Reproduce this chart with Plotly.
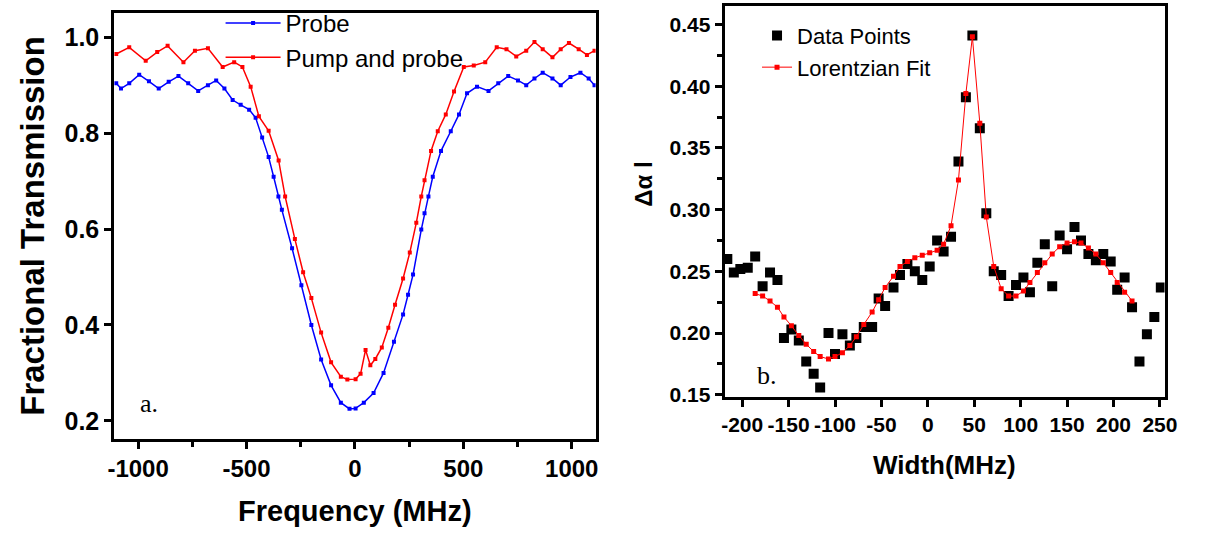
import plotly.graph_objects as go

# ---------------- data (panel a) ----------------
probe_freq = [-1101, -1079, -1041, -995, -950, -905, -859, -814, -769, -723, -678, -640,
              -602, -564, -527, -488, -458, -428, -398, -375, -353, -337, -290, -247,
              -201, -156, -110, -65, -25, 3, 41, 86, 132, 180, 222, 245, 268, 306, 321,
              339, 359, 397, 442, 480, 517, 563, 616, 661, 707, 752, 790, 828, 866, 911,
              949, 994, 1040, 1078, 1105]
probe_trans = [0.904, 0.893, 0.904, 0.922, 0.908, 0.893, 0.907, 0.919, 0.904, 0.888, 0.900, 0.910,
               0.893, 0.869, 0.859, 0.849, 0.832, 0.791, 0.750, 0.709, 0.668, 0.640, 0.560, 0.483,
               0.400, 0.328, 0.274, 0.238, 0.225, 0.226, 0.238, 0.258, 0.300, 0.365, 0.422, 0.463,
               0.505, 0.599, 0.633, 0.668, 0.709, 0.763, 0.804, 0.839, 0.883, 0.897, 0.888, 0.904,
               0.919, 0.910, 0.900, 0.914, 0.926, 0.914, 0.900, 0.917, 0.926, 0.914, 0.900]

pump_freq = [-1101, -1041, -965, -912, -864, -791, -738, -678, -610, -557, -519, -481, -443,
             -398, -352, -322, -277, -239, -201, -156, -110, -65, -35, 3, 26, 49, 71, 94, 124,
             154, 185, 222, 253, 283, 306, 321, 351, 382, 419, 457, 502, 548, 601, 654, 699,
             744, 790, 828, 866, 911, 949, 987, 1032, 1070, 1105]
pump_trans = [0.965, 0.979, 0.951, 0.969, 0.982, 0.948, 0.972, 0.977, 0.938, 0.948, 0.938, 0.897,
              0.835, 0.805, 0.743, 0.668, 0.579, 0.510, 0.456, 0.384, 0.322, 0.292, 0.286, 0.287,
              0.298, 0.348, 0.316, 0.329, 0.353, 0.394, 0.442, 0.497, 0.551, 0.613, 0.668, 0.702,
              0.763, 0.804, 0.839, 0.887, 0.938, 0.941, 0.948, 0.979, 0.975, 0.960, 0.972, 0.990,
              0.975, 0.958, 0.975, 0.988, 0.975, 0.963, 0.972]

# ---------------- data (panel b) ----------------
data_width = [-216, -209, -202, -194, -186, -178, -170, -162, -155, -147, -139, -131, -123, -116,
              -107, -100, -92, -84, -77, -69, -60, -53, -46, -37, -30, -22, -14, -6, 2, 10, 17,
              25, 33, 41, 48, 56, 63, 71, 79, 87, 95, 103, 110, 118, 126, 134, 142, 150, 158,
              165, 173, 181, 189, 197, 204, 212, 220, 228, 236, 244, 251]
data_dal = [0.260, 0.249, 0.252, 0.253, 0.262, 0.238, 0.249, 0.243, 0.196, 0.203, 0.194, 0.177,
            0.167, 0.156, 0.200, 0.183, 0.199, 0.190, 0.196, 0.205, 0.205, 0.228, 0.222, 0.237,
            0.247, 0.256, 0.250, 0.243, 0.254, 0.275, 0.266, 0.278, 0.339, 0.391, 0.441, 0.366,
            0.297, 0.250, 0.247, 0.230, 0.239, 0.245, 0.233, 0.257, 0.272, 0.238, 0.279, 0.268,
            0.286, 0.275, 0.264, 0.259, 0.264, 0.258, 0.235, 0.245, 0.221, 0.177, 0.199, 0.213,
            0.237]

fit_width = [-186, -178, -170, -162, -155, -147, -139, -131, -123, -116, -107, -100, -92, -84,
             -77, -69, -60, -53, -46, -37, -30, -22, -14, -6, 2, 10, 17, 25, 33, 41, 48, 56, 63,
             71, 79, 87, 95, 103, 110, 118, 126, 134, 142, 150, 158, 165, 173, 181, 189, 197,
             204, 212, 220]
fit_dal = [0.232, 0.230, 0.226, 0.221, 0.213, 0.206, 0.198, 0.191, 0.185, 0.181, 0.179, 0.181,
           0.184, 0.190, 0.197, 0.207, 0.217, 0.227, 0.237, 0.246, 0.254, 0.258, 0.261, 0.263,
           0.265, 0.267, 0.272, 0.287, 0.324, 0.394, 0.440, 0.370, 0.294, 0.254, 0.236, 0.230,
           0.230, 0.234, 0.241, 0.249, 0.257, 0.264, 0.270, 0.273, 0.274, 0.273, 0.269, 0.264,
           0.257, 0.249, 0.241, 0.233, 0.226]

left_xticks = [-1000, -500, 0, 500, 1000]
left_yticks = [0.2, 0.4, 0.6, 0.8, 1.0]
right_xticks = [-200, -150, -100, -50, 0, 50, 100, 150, 200, 250]
right_yticks = [0.15, 0.20, 0.25, 0.30, 0.35, 0.40, 0.45]

# ---------------- layout helpers ----------------
W, H = 1211, 542
def px_x(p):
    return p / W
def px_y(p):
    return (H - p) / H

FONT = "Liberation Sans, Arial, sans-serif"

fig = go.Figure()

fig.add_trace(go.Scatter(x=probe_freq, y=probe_trans, mode="lines+markers", name="Probe",
                         line=dict(color="#0000ff", width=1.5),
                         marker=dict(symbol="square", size=4, color="#0000ff"),
                         xaxis="x", yaxis="y", legend="legend"))
fig.add_trace(go.Scatter(x=pump_freq, y=pump_trans, mode="lines+markers", name="Pump and probe",
                         line=dict(color="#ff0000", width=1.5),
                         marker=dict(symbol="square", size=4, color="#ff0000"),
                         xaxis="x", yaxis="y", legend="legend"))
fig.add_trace(go.Scatter(x=data_width, y=data_dal, mode="markers", name="Data Points",
                         marker=dict(symbol="square", size=10, color="black"),
                         xaxis="x2", yaxis="y2", legend="legend2"))
fig.add_trace(go.Scatter(x=fit_width, y=fit_dal, mode="lines+markers", name="Lorentzian Fit",
                         line=dict(color="#ff0000", width=1),
                         marker=dict(symbol="square", size=5, color="#ff0000"),
                         xaxis="x2", yaxis="y2", legend="legend2"))

axis_common = dict(showline=True, linewidth=3, linecolor="black", mirror=True,
                   ticks="outside", tickwidth=2.5, ticklen=7, tickcolor="black",
                   showgrid=False, zeroline=False)

fig.update_layout(
    width=W, height=H,
    margin=dict(l=0, r=0, t=0, b=0),
    paper_bgcolor="white", plot_bgcolor="white",
    xaxis=dict(domain=[px_x(110), px_x(599)], range=[-1110, 1110],
               tickvals=left_xticks, ticktext=[str(v) for v in left_xticks],
               minor=dict(tickvals=[-750, -250, 250, 750], ticks="outside", ticklen=5,
                          tickwidth=2.5, tickcolor="black"),
               tickfont=dict(family=FONT, size=24, color="black", weight="bold"),
               anchor="y", **axis_common),
    yaxis=dict(domain=[px_y(446), px_y(13)], range=[0.163, 1.051],
               tickvals=left_yticks, ticktext=["%.1f" % v for v in left_yticks],
               tickfont=dict(family=FONT, size=25, color="black", weight="bold"),
               anchor="x", **axis_common),
    xaxis2=dict(domain=[px_x(730), px_x(1177)], range=[-219, 255],
                tickvals=right_xticks, ticktext=[str(v) for v in right_xticks],
                tickfont=dict(family=FONT, size=21, color="black", weight="bold"),
                anchor="y2", **axis_common),
    yaxis2=dict(domain=[px_y(404), px_y(6)], range=[0.148, 0.465],
                tickvals=right_yticks, ticktext=["%.2f" % v for v in right_yticks],
                minor=dict(tickvals=[0.175, 0.225, 0.275, 0.325, 0.375, 0.425],
                           ticks="outside", ticklen=5, tickwidth=2.5, tickcolor="black"),
                tickfont=dict(family=FONT, size=21, color="black", weight="bold"),
                anchor="x2", **axis_common),
    legend=dict(x=px_x(218), y=px_y(1), xanchor="left", yanchor="top",
                bgcolor="rgba(0,0,0,0)", borderwidth=0, tracegroupgap=0,
                font=dict(family=FONT, size=24, color="black"), itemwidth=55),
    legend2=dict(x=px_x(763), y=px_y(15), xanchor="left", yanchor="top",
                 bgcolor="rgba(0,0,0,0)", borderwidth=0,
                 font=dict(family=FONT, size=22, color="black")),
    showlegend=True,
)

annotations = [
    dict(text="Fractional Transmission", x=px_x(27), y=px_y(230), textangle=-90,
         font=dict(family=FONT, size=33, color="black", weight="bold")),
    dict(text="Frequency (MHz)", x=px_x(355), y=px_y(520),
         font=dict(family=FONT, size=29, color="black", weight="bold")),
    dict(text="Width(MHz)", x=px_x(953), y=px_y(473),
         font=dict(family=FONT, size=26, color="black", weight="bold")),
    dict(text="Δα l", x=px_x(648), y=px_y(187), textangle=-90,
         font=dict(family=FONT, size=24, color="black", weight="bold")),
    dict(text="a.", x=px_x(145), y=px_y(410),
         font=dict(family="Liberation Serif, Times New Roman, serif", size=26, color="black")),
    dict(text="b.", x=px_x(773), y=px_y(382),
         font=dict(family="Liberation Serif, Times New Roman, serif", size=26, color="black")),
]
for a in annotations:
    a.update(xref="paper", yref="paper", showarrow=False, xanchor="center", yanchor="middle")
fig.update_layout(annotations=annotations)

fig.write_html("out.html")
